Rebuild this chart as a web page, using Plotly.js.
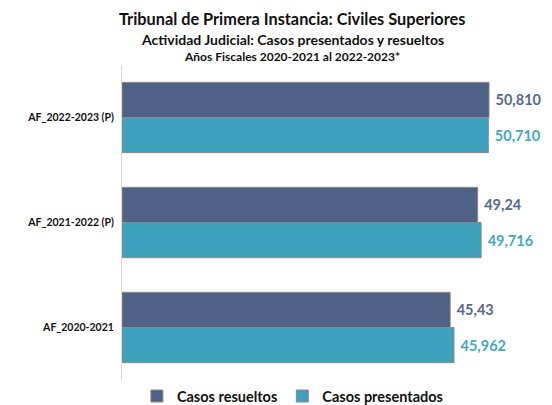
<!DOCTYPE html>
<html><head><meta charset="utf-8">
<script src="https://cdn.plot.ly/plotly-3.0.1.min.js"></script>
<style>html,body{margin:0;padding:0;background:#fff}#chart{width:552px;height:405px}</style>
</head><body><div id="chart"></div>
<script>
const categories = ["AF_2020-2021", "AF_2021-2022 (P)", "AF_2022-2023 (P)"];
const resueltos = [45430, 49240, 50810];
const resueltosLabels = ["45,43", "49,24", "50,810"];
const presentados = [45962, 49716, 50710];
const presentadosLabels = ["45,962", "49,716", "50,710"];
const titleLines = ["Tribunal de Primera Instancia: Civiles Superiores",
                    "Actividad Judicial: Casos presentados y resueltos",
                    "Años Fiscales 2020-2021 al 2022-2023*"];
const colorRes = "#4F6185";
const colorPre = "#3DA0BC";
const font = "Lato, 'Open Sans', sans-serif";

const traces = [
  {type:"bar", orientation:"h", name:"<b>Casos presentados</b>", y:categories, x:presentados,
   text:presentadosLabels.map(s => "<b> " + s + "</b>"), textposition:"outside", cliponaxis:false,
   textfont:{family:font, size:14.5, color:"#45A8C3"},
   marker:{color:colorPre, line:{color:"#8a8a8a", width:1}}},
  {type:"bar", orientation:"h", name:"<b>Casos resueltos</b>", y:categories, x:resueltos,
   text:resueltosLabels.map(s => "<b> " + s + "</b>"), textposition:"outside", cliponaxis:false,
   textfont:{family:font, size:14.5, color:"#55698F"},
   marker:{color:colorRes, line:{color:"#8a8a8a", width:1}}}
];

const layout = {
  width:552, height:405,
  margin:{l:122, r:7, t:65, b:25, autoexpand:false},
  paper_bgcolor:"#fff", plot_bgcolor:"#fff",
  barmode:"group", bargap:0.33, bargroupgap:0,
  font:{family:font, color:"#222"},
  annotations:[
    {text:"<b>"+titleLines[0]+"</b>", xref:"paper", yref:"paper", x:0.403, y:1.149, xanchor:"center", yanchor:"middle", showarrow:false, font:{family:font, size:16.3, color:"#111"}},
    {text:"<b>"+titleLines[1]+"</b>", xref:"paper", yref:"paper", x:0.403, y:1.0825, xanchor:"center", yanchor:"middle", showarrow:false, font:{family:font, size:14, color:"#111"}},
    {text:"<b>"+titleLines[2]+"</b>", xref:"paper", yref:"paper", x:0.403, y:1.0254, xanchor:"center", yanchor:"middle", showarrow:false, font:{family:font, size:12, color:"#111"}}
  ],
  xaxis:{range:[0,58560], visible:false, fixedrange:true},
  yaxis:{showline:true, linecolor:"#d9d9d9", linewidth:1, ticks:"", ticklen:0, ticklabelstandoff:5,
         tickfont:{family:font, size:10.5, color:"#111", weight:"bold"}, automargin:false, fixedrange:true},
  showlegend:true,
  legend:{orientation:"h", x:0.404, xanchor:"center", yref:"container", y:0.022, yanchor:"middle", traceorder:"reversed",
          font:{family:font, size:14.5, color:"#111"}, itemwidth:30}
};
Plotly.newPlot("chart", traces, layout, {displayModeBar:false, staticPlot:true});
</script></body></html>
